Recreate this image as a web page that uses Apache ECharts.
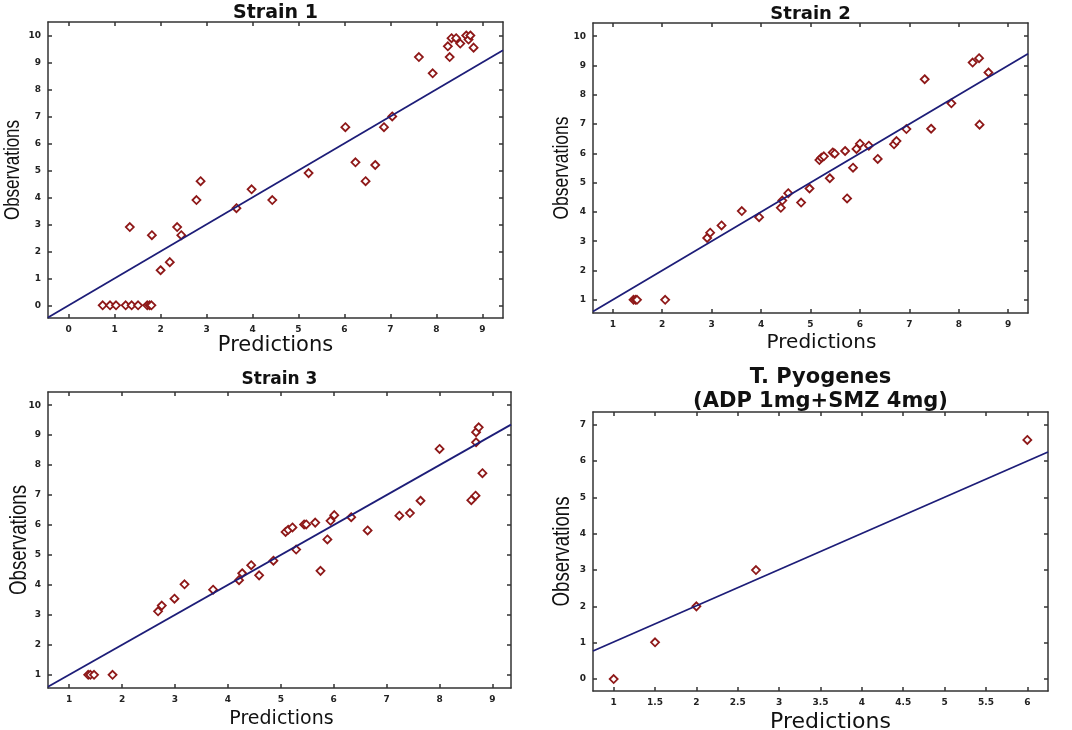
<!DOCTYPE html>
<html>
<head>
<meta charset="utf-8">
<script src="https://cdn.jsdelivr.net/npm/echarts@6/dist/echarts.min.js"></script>
<style>
  html, body { margin: 0; padding: 0; background: #fff; }
  #chart { width: 1072px; height: 730px; }
</style>
</head>
<body>
<div id="chart"></div>
<script>
// ---- data ----
const strain1Pred = [0.74, 0.90, 1.03, 1.24, 1.37, 1.51, 1.71, 1.76, 1.80, 1.33, 1.81, 2.00, 2.20, 2.36, 2.45, 2.78, 2.87, 3.65, 3.98, 4.43, 5.22, 6.02, 6.24, 6.46, 6.67, 6.86, 7.04, 7.62, 7.92, 8.25, 8.29, 8.33, 8.43, 8.52, 8.65, 8.70, 8.74, 8.81];
const strain1Obs  = [0, 0, 0, 0, 0, 0, 0, 0, 0, 2.9, 2.6, 1.3, 1.6, 2.9, 2.6, 3.9, 4.6, 3.6, 4.3, 3.9, 4.9, 6.6, 5.3, 4.6, 5.2, 6.6, 7.0, 9.2, 8.6, 9.6, 9.2, 9.9, 9.9, 9.7, 10.0, 9.85, 10.0, 9.55];

const strain2Pred = [1.42, 1.46, 1.49, 2.06, 2.91, 2.97, 3.20, 3.61, 3.96, 4.40, 4.43, 4.55, 4.81, 4.98, 5.18, 5.22, 5.27, 5.39, 5.45, 5.49, 5.70, 5.74, 5.86, 5.93, 6.00, 6.18, 6.36, 6.69, 6.74, 6.94, 7.31, 7.44, 7.85, 8.28, 8.41, 8.42, 8.60];
const strain2Obs  = [1, 1, 1, 1, 3.11, 3.29, 3.54, 4.03, 3.82, 4.14, 4.39, 4.64, 4.32, 4.80, 5.77, 5.85, 5.90, 5.15, 6.03, 5.99, 6.08, 4.46, 5.51, 6.15, 6.33, 6.26, 5.81, 6.31, 6.42, 6.83, 8.53, 6.84, 7.71, 9.10, 9.25, 6.98, 8.76];

const strain3Pred = [1.36, 1.40, 1.47, 1.82, 2.68, 2.75, 2.99, 3.18, 3.72, 4.21, 4.27, 4.44, 4.59, 4.86, 5.09, 5.14, 5.22, 5.29, 5.44, 5.48, 5.65, 5.75, 5.88, 5.94, 6.01, 6.33, 6.64, 7.24, 7.44, 7.64, 8.00, 8.60, 8.68, 8.69, 8.69, 8.74, 8.81];
const strain3Obs  = [1, 1, 1, 1, 3.12, 3.31, 3.54, 4.02, 3.84, 4.16, 4.39, 4.66, 4.32, 4.81, 5.77, 5.84, 5.92, 5.18, 6.02, 6.02, 6.08, 4.47, 5.52, 6.14, 6.33, 6.26, 5.82, 6.31, 6.40, 6.81, 8.54, 6.83, 6.98, 8.76, 9.10, 9.26, 7.73];

const pyoPred = [1.0, 1.5, 2.0, 2.72, 6.0];
const pyoObs  = [0, 1.01, 2.0, 3.0, 6.58];

// fitted lines (end points)
const fit1 = [[-0.45, -0.45], [9.45, 9.45]];
const fit2 = [[0.6, 0.6], [9.4, 9.4]];
const fit3 = [[0.6, 0.6], [9.35, 9.35]];
const fit4 = [[0.75, 0.77], [6.25, 6.25]];

// tick labels
const ticksX1 = [0, 1, 2, 3, 4, 5, 6, 7, 8, 9];
const ticksY1 = [0, 1, 2, 3, 4, 5, 6, 7, 8, 9, 10];
const ticksX2 = [1, 2, 3, 4, 5, 6, 7, 8, 9];
const ticksY2 = [1, 2, 3, 4, 5, 6, 7, 8, 9, 10];
const ticksX4 = [1, 1.5, 2, 2.5, 3, 3.5, 4, 4.5, 5, 5.5, 6];
const ticksY4 = [0, 1, 2, 3, 4, 5, 6, 7];

const titles = ['Strain 1', 'Strain 2', 'Strain 3', 'T. Pyogenes\n(ADP 1mg+SMZ 4mg)'];
const xName = 'Predictions';
const yName = 'Observations';

// ---- layout ----
const panels = [
  { grid: { left: 48, top: 22, width: 455, height: 296 }, x: [-0.45, 9.45], y: [-0.47, 10.5],
    tx: ticksX1, ty: ticksY1, pred: strain1Pred, obs: strain1Obs, fit: fit1,
    titleTop: 1, titleSize: 19, obsX: 13, obsSize: 17, predSize: 21, predGap: 16, predShift: 0 },
  { grid: { left: 593, top: 23, width: 435, height: 290 }, x: [0.6, 9.4], y: [0.55, 10.45],
    tx: ticksX2, ty: ticksY2, pred: strain2Pred, obs: strain2Obs, fit: fit2,
    titleTop: 2, titleSize: 18, obsX: 562, obsSize: 17.5, predSize: 20, predGap: 20, predShift: 22 },
  { grid: { left: 48, top: 392, width: 463, height: 296 }, x: [0.6, 9.35], y: [0.56, 10.44],
    tx: ticksX2, ty: ticksY2, pred: strain3Pred, obs: strain3Obs, fit: fit3,
    titleTop: 368, titleSize: 17, obsX: 19, obsSize: 18.7, predSize: 19, predGap: 22, predShift: 4 },
  { grid: { left: 593, top: 412, width: 455, height: 279 }, x: [0.75, 6.25], y: [-0.33, 7.35],
    tx: ticksX4, ty: ticksY4, pred: pyoPred, obs: pyoObs, fit: fit4,
    titleTop: 366, titleSize: 21, obsX: 562, obsSize: 18.7, predSize: 22, predGap: 20, predShift: 20 }
];

const axisColor = '#333';
const labelStyle = { color: '#222', fontFamily: 'DejaVu Sans', fontWeight: 'bold', fontSize: 9 };

let option = {
  backgroundColor: '#fff',
  animation: false,
  title: [],
  grid: [],
  xAxis: [],
  yAxis: [],
  series: [],
  graphic: []
};

panels.forEach(function (p, i) {
  option.title.push({
    text: titles[i],
    left: p.grid.left + p.grid.width / 2,
    top: p.titleTop,
    padding: 0,
    textAlign: 'center',
    textStyle: { fontFamily: 'DejaVu Sans', fontWeight: 'bold', fontSize: p.titleSize, color: '#111', lineHeight: 24 }
  });
  option.grid.push(Object.assign({ containLabel: false, outerBoundsMode: 'none' }, p.grid));

  const lineStyle = { lineStyle: { color: axisColor, width: 1.5 } };
  const tickIn = (vals) => ({ show: true, inside: true, length: 4, customValues: vals, lineStyle: { color: axisColor, width: 1.5 } });

  // bottom / left axes with labels
  option.xAxis.push({
    type: 'value', gridIndex: i, position: 'bottom', min: p.x[0], max: p.x[1],
    axisLine: Object.assign({ show: true, onZero: false }, lineStyle),
    axisTick: tickIn(p.tx),
    axisLabel: Object.assign({ customValues: p.tx, margin: 7 }, labelStyle),
    splitLine: { show: false },
    name: xName, nameLocation: 'middle', nameGap: p.predGap,
    nameTextStyle: { fontFamily: 'DejaVu Sans', fontSize: p.predSize, color: '#111', padding: [0, 0, 0, p.predShift] }
  });
  option.yAxis.push({
    type: 'value', gridIndex: i, position: 'left', min: p.y[0], max: p.y[1],
    axisLine: Object.assign({ show: true, onZero: false }, lineStyle),
    axisTick: tickIn(p.ty),
    axisLabel: Object.assign({ customValues: p.ty, margin: 7 }, labelStyle),
    splitLine: { show: false }
  });
  // top / right axes close the box
  option.xAxis.push({
    type: 'value', gridIndex: i, position: 'top', min: p.x[0], max: p.x[1],
    axisLine: Object.assign({ show: true, onZero: false }, lineStyle),
    axisTick: tickIn(p.tx),
    axisLabel: { show: false }, splitLine: { show: false }
  });
  option.yAxis.push({
    type: 'value', gridIndex: i, position: 'right', min: p.y[0], max: p.y[1],
    axisLine: Object.assign({ show: true, onZero: false }, lineStyle),
    axisTick: tickIn(p.ty),
    axisLabel: { show: false }, splitLine: { show: false }
  });

  // y axis title: rotated text, stretched across its thickness like the figure
  option.graphic.push({
    type: 'text',
    x: p.obsX,
    y: p.grid.top + p.grid.height / 2,
    rotation: Math.PI / 2,
    scaleY: 1.3,
    style: {
      text: yName, fill: '#111',
      font: p.obsSize + "px 'Liberation Sans', Arial, sans-serif",
      textAlign: 'center', textVerticalAlign: 'middle'
    }
  });

  option.series.push({
    type: 'line', xAxisIndex: i * 2, yAxisIndex: i * 2,
    data: p.fit, symbol: 'none', silent: true,
    lineStyle: { color: '#1d1d78', width: 1.8 }
  });
  option.series.push({
    type: 'scatter', xAxisIndex: i * 2, yAxisIndex: i * 2,
    data: p.pred.map((v, k) => [v, p.obs[k]]),
    symbol: 'diamond', symbolSize: [8, 8],
    itemStyle: { color: '#fff', borderColor: '#8e1818', borderWidth: 1.8, opacity: 1 }
  });
});

const myChart = echarts.init(document.getElementById('chart'));
myChart.setOption(option);
</script>
</body>
</html>
